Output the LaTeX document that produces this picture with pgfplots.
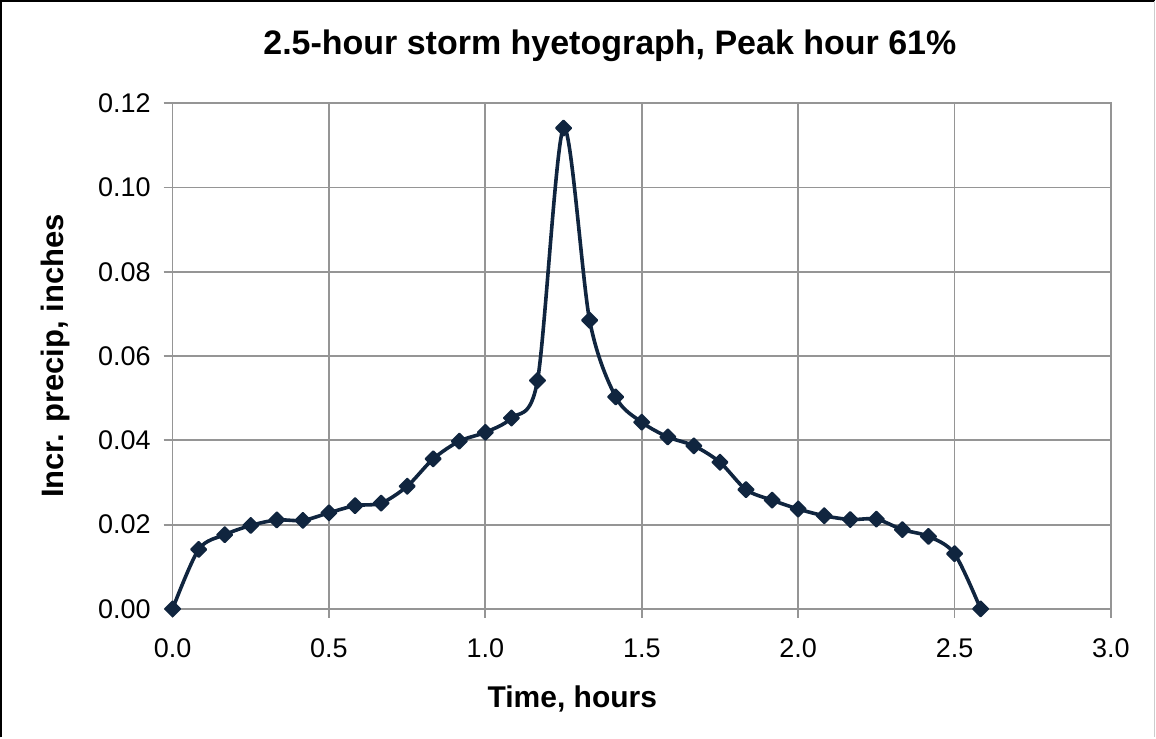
\documentclass[border=0pt]{standalone}
\usepackage{pgfplots}
\pgfplotsset{compat=1.18}
\usepackage{fontspec}
\setmainfont{Liberation Sans}

\definecolor{navy}{HTML}{10253F}
\definecolor{gridgray}{HTML}{959595}

\pgfplotstableread{
t      p
0.0000 0.0000
0.0833 0.0141
0.1667 0.0176
0.2500 0.0198
0.3333 0.0211
0.4167 0.0210
0.5000 0.0228
0.5833 0.0245
0.6667 0.0251
0.7500 0.0291
0.8333 0.0356
0.9167 0.0398
1.0000 0.0419
1.0833 0.0453
1.1667 0.0542
1.2500 0.1141
1.3333 0.0685
1.4167 0.0503
1.5000 0.0443
1.5833 0.0408
1.6667 0.0387
1.7500 0.0348
1.8333 0.0283
1.9167 0.0258
2.0000 0.0237
2.0833 0.0221
2.1667 0.0212
2.2500 0.0213
2.3333 0.0188
2.4167 0.0172
2.5000 0.0131
2.5833 0.0000
}\storm

\begin{document}
\begin{tikzpicture}
% outer chart frame
\path (0,0) rectangle (578pt,369pt);
\draw[black, line width=0.8pt] (0.4pt,0) -- (0.4pt,368.6pt) -- (578pt,368.6pt);
\draw[gray!40, line width=0.6pt] (577.7pt,368.6pt) -- (577.7pt,0);

\begin{axis}[
    at={(86.35pt,64.35pt)}, anchor=south west,
    scale only axis, width=469.5pt, height=253pt,
    xmin=0, xmax=3, ymin=0, ymax=0.12,
    xtick={0,0.5,...,3}, ytick={0,0.02,...,0.12},
    grid=major,
    grid style={gridgray, line width=0.9pt},
    axis line style={gridgray, line width=0.9pt},
    tick style={gridgray, line width=0.9pt},
    tick align=outside, major tick length=4.5pt,
    xtick pos=bottom, ytick pos=left,
    /pgf/number format/assume math mode=true,
    xticklabel={\pgfmathprintnumber[fixed,fixed zerofill,precision=1]{\tick}},
    yticklabel={\pgfmathprintnumber[fixed,fixed zerofill,precision=2]{\tick}},
    ticklabel style={font=\fontsize{13.5}{15}\selectfont, text=black},
    xticklabel style={anchor=center, yshift=-15pt},
    yticklabel style={anchor=east, xshift=-3pt},
    title={2.5-hour storm  hyetograph, Peak hour 61\%},
    title style={at={(rel axis cs:0.466,1.089)}, anchor=center, font=\bfseries\fontsize{17}{19}\selectfont},
    xlabel={Time, hours},
    xlabel style={at={(rel axis cs:0.426,-0.178)}, anchor=center, font=\bfseries\fontsize{15}{17}\selectfont},
    ylabel={Incr. precip, inches},
    ylabel style={at={(rel axis cs:-0.125,0.5)}, anchor=center, rotate=0, font=\bfseries\fontsize{15.5}{17}\selectfont},
    clip=false,
]
\addplot[navy, line width=1.8pt, smooth, tension=0.5,
    mark=square*, mark size=2.7pt,
    mark options={fill=navy, draw=navy, line width=0.9pt, line join=round, rotate=45}]
    table[x=t, y=p] {\storm};
\end{axis}
\end{tikzpicture}
\end{document}
